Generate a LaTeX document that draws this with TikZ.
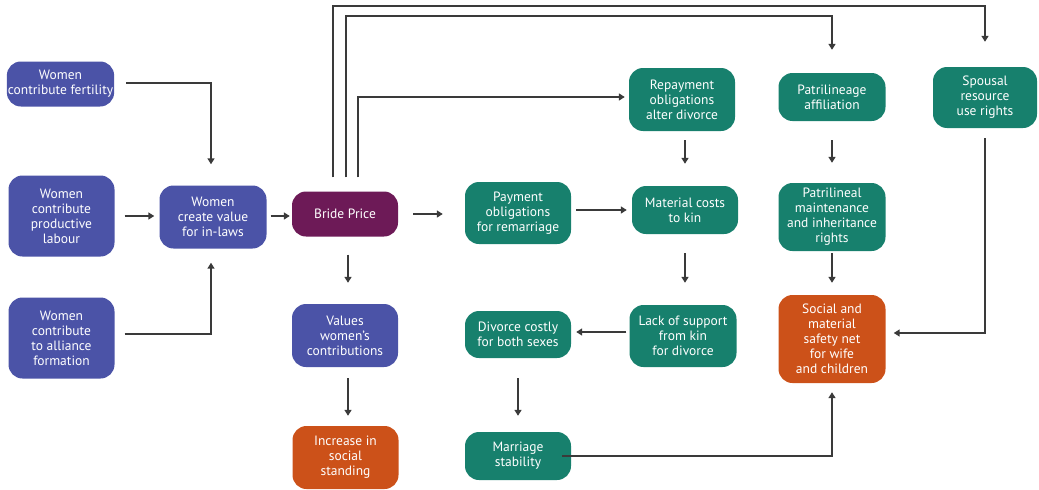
\documentclass[tikz,border=0pt]{standalone}
\usepackage{fontspec}
\setmainfont{PT Sans}
\usetikzlibrary{arrows.meta}
\definecolor{cblue}{HTML}{4B53A7}
\definecolor{cteal}{HTML}{17806D}
\definecolor{cplum}{HTML}{6D1A57}
\definecolor{corange}{HTML}{CC5119}
\definecolor{cline}{HTML}{3A3A3A}
\begin{document}
\begin{tikzpicture}[x=1pt,y=-1pt,
  box/.style={rounded corners=14pt, minimum width=106pt, align=center, text=white,
    font=\fontsize{13.5}{15}\selectfont, inner sep=1pt},
  bluebox/.style={box, fill=cblue},
  tealbox/.style={box, fill=cteal},
  plumbox/.style={box, fill=cplum},
  orangebox/.style={box, fill=corange},
  arr/.style={draw=cline, line width=1.5pt, -{Triangle[length=6pt,width=7pt]}}]
\useasboundingbox (0,0) rectangle (1039,490);
% left column
\node[bluebox, minimum height=45pt] (fert) at (60.5,84) {Women\\contribute fertility};
\node[bluebox, minimum height=81pt] (labour) at (61.5,216) {Women\\contribute\\productive\\labour};
\node[bluebox, minimum height=81pt] (alliance) at (61.5,338) {Women\\contribute\\to alliance\\formation};
\node[bluebox, minimum height=63pt, minimum width=107pt] (create) at (213,217) {Women\\create value\\for in-laws};
\node[plumbox, minimum height=45pt] (bride) at (345,214) {Bride Price};
\node[bluebox, minimum height=63pt] (values) at (345,335.5) {Values\\women's\\contributions};
\node[orangebox, minimum height=63pt] (increase) at (345.5,457.5) {Increase in\\social\\standing};
% middle
\node[tealbox, minimum height=62pt] (payment) at (518,213) {Payment\\obligations\\for remarriage};
\node[tealbox, minimum height=47pt] (divorce) at (518,334.5) {Divorce costly\\for both sexes};
\node[tealbox, minimum height=48pt] (marriage) at (518,456) {Marriage\\stability};
\node[tealbox, minimum height=63pt] (repay) at (682,99.5) {Repayment\\obligations\\alter divorce};
\node[tealbox, minimum height=48pt] (material) at (685,210) {Material costs\\to kin};
\node[tealbox, minimum height=62pt, minimum width=107pt] (lack) at (683,336) {Lack of support\\from kin\\for divorce};
% right
\node[tealbox, minimum height=48pt, minimum width=107pt] (patri) at (832,97) {Patrilineage\\affiliation};
\node[tealbox, minimum height=68pt, minimum width=107pt] (maint) at (832,217) {Patrilineal\\maintenance\\and inheritance\\rights};
\node[orangebox, minimum height=88pt, minimum width=107pt] (safety) at (832,339) {Social and\\material\\safety net\\for wife\\and children};
\node[tealbox, minimum height=61pt, minimum width=104pt] (spousal) at (985,97.5) {Spousal\\resource\\use rights};
% helper coordinates for top routes
\coordinate (t1) at (346,16);
\coordinate (t2) at (333,6);
\coordinate (t3) at (358,97);
% connectors
\draw[arr, shorten <=12pt, shorten >=21pt] ([yshift=1pt]fert.east) -| ([xshift=-2pt]create.north);
\draw[arr, shorten <=10pt, shorten >=5pt] (labour.east) -- (labour.east -| create.west);
\draw[arr, shorten <=10pt, shorten >=14pt] ([yshift=4pt]alliance.east) -| ([xshift=-2pt]create.south);
\draw[arr, shorten <=4pt, shorten >=2pt] ([yshift=1pt]create.east) -- ([yshift=1pt]create.east -| bride.west);
\draw[arr, shorten <=15pt, shorten >=22pt] (bride.east) -- (bride.east -| payment.west);
\draw[arr, shorten <=5pt, shorten >=5pt] (material.west -| payment.east) -- (material.west);
\draw[arr, shorten <=9pt, shorten >=22pt] (material.north |- repay.south) -- (material.north);
\draw[arr, shorten <=14pt, shorten >=4pt] (bride.north -| t3) |- (t3 -| repay.west);
\draw[arr, shorten <=14pt, shorten >=23pt] (bride.north -| t1) -- (t1) -| (patri.north);
\draw[arr, shorten <=14pt, shorten >=25pt] (bride.north -| t2) -- (t2) -| (spousal.north);
\draw[arr, shorten <=19pt, shorten >=20pt] (patri.south) -- (maint.north);
\draw[arr, shorten <=2pt, shorten >=12pt] (maint.south) -- (safety.north);
\draw[arr, shorten <=10pt, shorten >=8pt] (spousal.south) |- ([yshift=6pt]safety.east);
\draw[arr, shorten <=-9pt, shorten >=9pt] (marriage.east) -| (safety.south);
\draw[arr, shorten <=19pt, shorten >=22pt] (material.south) -- (material.south |- lack.north);
\draw[arr, shorten <=3pt, shorten >=5pt] ([yshift=4pt]lack.west) -- ([yshift=4pt]lack.west -| divorce.east);
\draw[arr, shorten <=20pt, shorten >=16pt] (divorce.south) -- (marriage.north);
\draw[arr, shorten <=18pt, shorten >=21pt] ([xshift=3pt]bride.south) -- ([xshift=3pt]bride.south |- values.north);
\draw[arr, shorten <=11pt, shorten >=10pt] ([xshift=3pt]values.south) -- ([xshift=3pt]values.south |- increase.north);
\end{tikzpicture}
\end{document}
